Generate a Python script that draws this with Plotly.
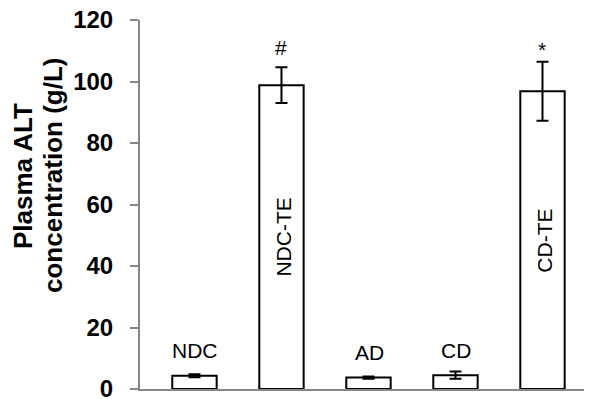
import plotly.graph_objects as go

categories = ["NDC", "NDC-TE", "AD", "CD", "CD-TE"]
alt_mean = [4.3, 98.8, 3.7, 4.5, 96.8]
alt_err = [0.5, 5.8, 0.4, 1.2, 9.6]
sig_marks = ["", "#", "", "", "*"]
y_ticks = [0, 20, 40, 60, 80, 100, 120]

FONT = "Liberation Sans, Arial, sans-serif"
AXIS_GRAY = "#878787"

fig = go.Figure()
fig.add_trace(go.Bar(
    x=list(range(len(categories))),
    y=alt_mean,
    marker=dict(color="white", line=dict(color="black", width=2)),
    error_y=dict(type="data", array=alt_err, visible=True,
                 color="black", thickness=2, width=6),
    showlegend=False,
    hoverinfo="skip",
))

annotations = []
for i, (cat, v, e, s) in enumerate(zip(categories, alt_mean, alt_err, sig_marks)):
    if v > 50:
        annotations.append(dict(
            x=i, y=v / 2, xref="x", yref="y", text=cat, showarrow=False,
            textangle=-90, xanchor="center", yanchor="middle", xshift=2,
            font=dict(family=FONT, size=21, color="black")))
    else:
        annotations.append(dict(
            x=i, y=v, xref="x", yref="y", text=cat, showarrow=False,
            xanchor="center", yanchor="middle", yshift=25, xshift=1,
            font=dict(family=FONT, size=21, color="black")))
    if s:
        annotations.append(dict(
            x=i, y=v + e, xref="x", yref="y", text=s, showarrow=False,
            xanchor="center", yanchor="middle",
            yshift=20 if s == "#" else 12,
            font=dict(family=FONT, size=21, color="black")))

# y-axis title (two lines)
annotations.append(dict(
    x=(23 - 140) / 452, y=(389 - 176) / 369, xref="paper", yref="paper",
    text="Plasma ALT", showarrow=False, textangle=-90,
    xanchor="center", yanchor="middle",
    font=dict(family=FONT, size=26, color="black", weight="bold")))
annotations.append(dict(
    x=(53 - 140) / 452, y=(389 - 176) / 369, xref="paper", yref="paper",
    text="concentration (g/L)", showarrow=False, textangle=-90,
    xanchor="center", yanchor="middle",
    font=dict(family=FONT, size=26, color="black", weight="bold")))

# page body has an 8px margin: figure is 584x391 placed at (8, 8)
fig.update_layout(
    width=584, height=391,
    margin=dict(l=132, r=0, t=12, b=10),
    paper_bgcolor="white", plot_bgcolor="white",
    bargap=0.49,
    annotations=annotations,
    xaxis=dict(range=[-0.626, 4.569], showticklabels=False, ticks="",
               showgrid=False, zeroline=False, showline=True,
               linecolor=AXIS_GRAY, linewidth=2),
    yaxis=dict(range=[0, 120], tickvals=y_ticks, ticks="outside", ticklen=8,
               tickwidth=2, tickcolor=AXIS_GRAY, showgrid=False, zeroline=False,
               showline=True, linecolor=AXIS_GRAY, linewidth=2,
               ticklabelstandoff=12, automargin=False,
               ticklabeloverflow="allow",
               tickfont=dict(family=FONT, size=24, color="black", weight="bold")),
)

fig.write_html("out.html")
